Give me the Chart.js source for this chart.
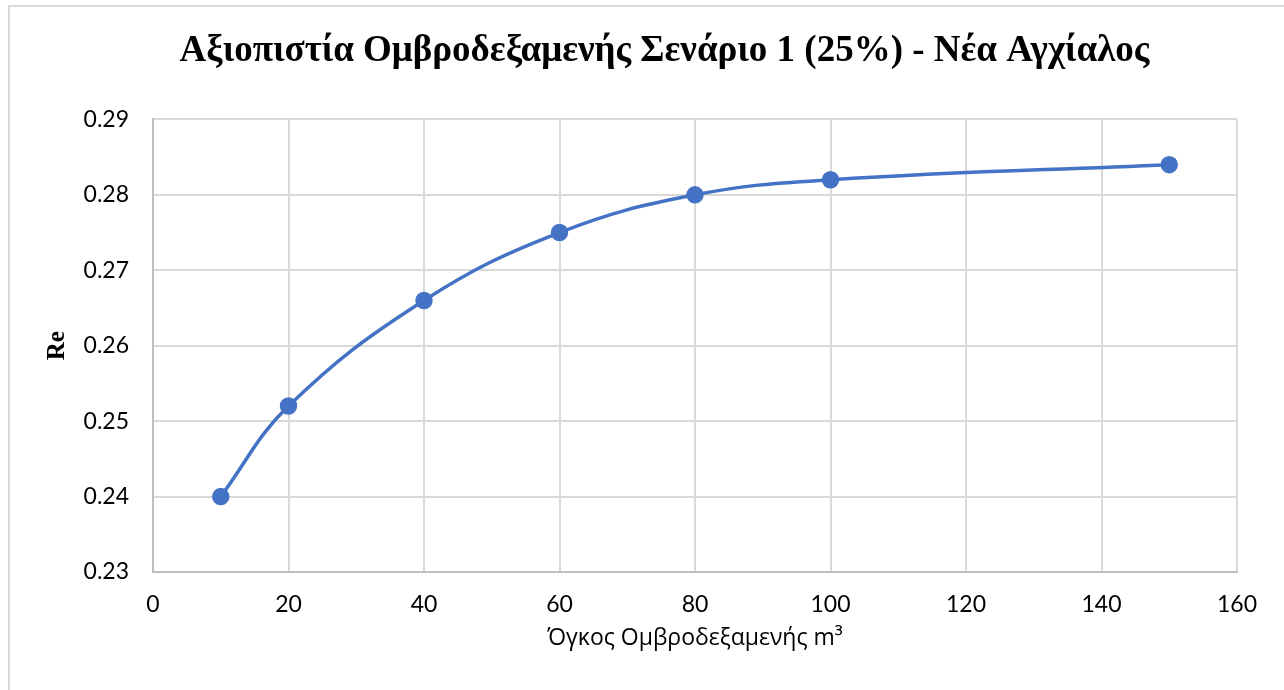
<!DOCTYPE html>
<html>
<head>
<meta charset="utf-8">
<script src="https://cdn.jsdelivr.net/npm/chart.js@4/dist/chart.umd.min.js"></script>
<style>
  html, body { margin: 0; padding: 0; background: #fff; overflow: hidden; }
  #frame { position: absolute; left: 8px; top: 5px; width: 1400px; height: 800px; border: 2px solid #d9d9d9; box-sizing: border-box; }
  #wrap { position: absolute; left: 0; top: 0; width: 1284px; height: 690px; }
</style>
</head>
<body>
<div id="frame"></div>
<div id="wrap"><canvas id="chart"></canvas></div>
<script>
const volumes = [10, 20, 40, 60, 80, 100, 150];
const reliability = [0.240, 0.252, 0.266, 0.275, 0.280, 0.282, 0.284];
const xTicks = [0, 20, 40, 60, 80, 100, 120, 140, 160];
const yTicks = [0.23, 0.24, 0.25, 0.26, 0.27, 0.28, 0.29];

const tickFont = { family: "Lato", size: 23 };

// the title sits a bit right of the plot's centre in the original
const shiftTitle = {
    id: "shiftTitle",
    afterLayout(chart) {
        chart.titleBlock.left += 28;
        chart.titleBlock.right += 28;
    }
};

new Chart(document.getElementById("chart"), {
    type: "scatter",
    data: {
        datasets: [{
            label: "Re",
            data: volumes.map((v, i) => ({ x: v, y: reliability[i] })),
            showLine: true,
            tension: 0.4,
            borderColor: "#4472c4",
            backgroundColor: "#4472c4",
            borderWidth: 3.5,
            pointRadius: 7,
            pointHoverRadius: 7
        }]
    },
    options: {
        responsive: true,
        maintainAspectRatio: false,
        animation: false,
        layout: { padding: { left: 36, right: 47, top: 0, bottom: 8 } },
        plugins: {
            legend: { display: false },
            tooltip: { enabled: false },
            title: {
                display: true,
                text: "Αξιοπιστία Ομβροδεξαμενής Σενάριο 1 (25%) - Νέα Αγχίαλος",
                color: "#000",
                font: { family: "Liberation Serif", size: 37, weight: "bold", lineHeight: 1.2 },
                padding: { top: 29, bottom: 46 }
            }
        },
        scales: {
            x: {
                type: "linear",
                min: 0,
                max: 160,
                afterBuildTicks: s => { s.ticks = xTicks.map(v => ({ value: v })); },
                afterFit: s => { s.height = 110; },
                ticks: { color: "#000", font: tickFont, padding: 19 },
                grid: { color: "#d9d9d9", lineWidth: 2, drawTicks: false },
                border: { color: "#bfbfbf", width: 2 },
                title: {
                    display: true,
                    text: "Όγκος Ομβροδεξαμενής m³",
                    color: "#000",
                    font: { family: "Open Sans", size: 23 },
                    padding: { top: 0, bottom: 30 }
                }
            },
            y: {
                min: 0.23,
                max: 0.29,
                afterBuildTicks: s => { s.ticks = yTicks.map(v => ({ value: v })); },
                afterFit: s => { s.width = 117; },
                ticks: { color: "#000", font: tickFont, padding: 24, callback: v => v.toFixed(2) },
                grid: { color: "#d9d9d9", lineWidth: 2, drawTicks: false },
                border: { color: "#bfbfbf", width: 2 },
                title: {
                    display: true,
                    text: "Re",
                    color: "#000",
                    font: { family: "Liberation Serif", size: 25, weight: "bold" },
                    padding: { top: 7, bottom: 0 }
                }
            }
        }
    },
    plugins: [shiftTitle]
});
</script>
</body>
</html>
